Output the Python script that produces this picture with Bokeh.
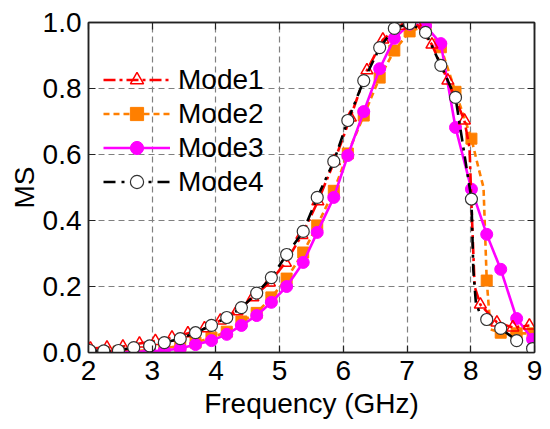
from bokeh.plotting import figure
from bokeh.models import (LinearAxis, SingleIntervalTicker, Legend, LegendItem,
                          Range1d, NumeralTickFormatter)
from bokeh.embed import file_html
from bokeh.resources import INLINE

# ---- data ----
x_common = [2.02, 2.24, 2.47, 2.71, 2.96, 3.19, 3.44, 3.68, 3.93, 4.17, 4.40, 4.64,
            4.87, 5.11, 5.37, 5.59, 5.85, 6.07, 6.32, 6.57, 6.80, 7.04, 7.29, 7.53,
            7.76, 8.01, 8.25, 8.47, 8.72, 8.97]

mode1_x = [2.03, 2.29, 2.54, 2.80, 3.05, 3.31, 3.56, 3.82, 4.07, 4.33, 4.58, 4.84,
           5.09, 5.35, 5.60, 5.86, 6.11, 6.37, 6.62, 6.88, 7.13, 7.39, 7.64, 7.90,
           8.15, 8.41, 8.66, 8.92]
mode1_y = [0.012, 0.015, 0.018, 0.027, 0.035, 0.045, 0.058, 0.073, 0.097, 0.125, 0.167, 0.212,
           0.272, 0.356, 0.458, 0.580, 0.712, 0.855, 0.948, 0.990, 1.000, 0.933, 0.824, 0.703,
           0.145, 0.091, 0.076, 0.082]
mode1_extra_x = [7.98, 8.02, 8.06]
mode1_extra_y = [0.62, 0.40, 0.20]

mode2_y = [0.0, 0.0, 0.002, 0.004, 0.008, 0.013, 0.020, 0.030, 0.045, 0.063, 0.094, 0.120,
           0.167, 0.224, 0.303, 0.385, 0.490, 0.603, 0.718, 0.833, 0.915, 0.973, 0.990, 0.925,
           0.790, 0.648, 0.218, 0.060, 0.058, 0.058]
mode2_extra_x = [8.12, 8.20, 8.31]
mode2_extra_y = [0.56, 0.50, 0.07]

mode3_y = [0.0, 0.0, 0.0, 0.002, 0.004, 0.006, 0.012, 0.024, 0.036, 0.055, 0.082, 0.112,
           0.152, 0.200, 0.273, 0.364, 0.470, 0.597, 0.730, 0.860, 0.952, 0.995, 0.990, 0.936,
           0.682, 0.495, 0.358, 0.252, 0.103, 0.040]

mode4_y = [0.006, 0.005, 0.006, 0.015, 0.020, 0.030, 0.042, 0.060, 0.082, 0.106, 0.136, 0.180,
           0.227, 0.297, 0.367, 0.470, 0.579, 0.703, 0.824, 0.924, 0.982, 0.997, 0.970, 0.870,
           0.773, 0.465, 0.100, 0.073, 0.036, 0.012]
mode4_extra_x = [8.04, 8.08, 8.15]
mode4_extra_y = [0.25, 0.15, 0.115]

labels = ["Mode1", "Mode2", "Mode3", "Mode4"]
x_ticks_interval = 1
y_ticks_interval = 0.2


def merged(xs, ys, ex, ey):
    pts = sorted(zip(list(xs) + list(ex), list(ys) + list(ey)))
    return [a for a, _ in pts], [b for _, b in pts]


FONT = "Liberation Sans"
FS = "28px"

p = figure(frame_width=446, frame_height=330, x_range=Range1d(2, 9), y_range=Range1d(0, 1),
           output_backend="svg", toolbar_location=None,
           min_border_left=88, min_border_right=8, min_border_top=22, min_border_bottom=70)
p.background_fill_color = "white"
p.border_fill_color = "white"
p.outline_line_color = "#222222"
p.outline_line_width = 1.5

xt = SingleIntervalTicker(interval=x_ticks_interval)
yt = SingleIntervalTicker(interval=y_ticks_interval)
p.xaxis.ticker = xt
p.yaxis.ticker = yt
p.yaxis.formatter = NumeralTickFormatter(format="0.0")
p.xaxis.axis_label = "Frequency (GHz)"
p.yaxis.axis_label = "MS"

for ax in (p.xaxis[0], p.yaxis[0]):
    ax.axis_line_color = "#222222"
    ax.axis_line_width = 1.5
    ax.major_tick_in = 7
    ax.major_tick_out = 0
    ax.major_tick_line_color = "#222222"
    ax.major_tick_line_width = 1.2
    ax.minor_tick_line_color = None
    ax.major_label_text_font = FONT
    ax.major_label_text_font_size = FS
    ax.major_label_text_color = "black"
    ax.axis_label_text_font = FONT
    ax.axis_label_text_font_size = FS
    ax.axis_label_text_font_style = "normal"
    ax.axis_label_text_color = "black"
p.xaxis.major_label_standoff = 4
p.xaxis.axis_label_standoff = 5
p.yaxis.major_label_standoff = 3
p.yaxis.axis_label_standoff = 0

for loc, tk in (("right", yt), ("above", xt)):
    ax = LinearAxis(ticker=tk, major_label_text_color=None, major_label_text_font_size="1px",
                    major_label_standoff=0,
                    axis_line_color="#222222", axis_line_width=1.5,
                    major_tick_in=7, major_tick_out=0, major_tick_line_color="#222222",
                    major_tick_line_width=1.2, minor_tick_line_color=None)
    p.add_layout(ax, loc)

for g in (p.xgrid[0], p.ygrid[0]):
    g.grid_line_color = "#808080"
    g.grid_line_dash = "6 4"
    g.grid_line_width = 1.2
p.xgrid.ticker = xt
p.ygrid.ticker = yt

LW = 2.6
# Mode2
l2x, l2y = merged(x_common, mode2_y, mode2_extra_x, mode2_extra_y)
r2l = p.line(l2x, l2y, color="#FF7F00", line_width=LW, line_dash="6 4")
r2m = p.scatter(x_common, mode2_y, marker="square", size=11, fill_color="#FF7F00",
                line_color="#FF7F00")
# Mode3
r3l = p.line(x_common, mode3_y, color="#FF00FF", line_width=LW)
r3m = p.scatter(x_common, mode3_y, marker="circle", size=12, fill_color="#FF00FF",
                line_color="#FF00FF")
# Mode1
l1x, l1y = merged(mode1_x, mode1_y, mode1_extra_x, mode1_extra_y)
r1l = p.line(l1x, l1y, color="#FF0000", line_width=LW, line_dash="12 4 3 4")
r1m = p.scatter(mode1_x, mode1_y, marker="triangle", size=12, fill_color="white",
                fill_alpha=0.0, line_color="#FF0000", line_width=1.5)
# Mode4
l4x, l4y = merged(x_common, mode4_y, mode4_extra_x, mode4_extra_y)
r4l = p.line(l4x, l4y, color="black", line_width=LW, line_dash="12 6 3 6")
r4m = p.scatter(x_common, mode4_y, marker="circle", size=12, fill_color="white",
                line_color="#333333", line_width=1.2)

legend = Legend(items=[
    LegendItem(label=labels[0], renderers=[r1l, r1m]),
    LegendItem(label=labels[1], renderers=[r2l, r2m]),
    LegendItem(label=labels[2], renderers=[r3l, r3m]),
    LegendItem(label=labels[3], renderers=[r4l, r4m]),
], location=(11, 150))
legend.background_fill_alpha = 0
legend.border_line_alpha = 0
legend.label_text_font = FONT
legend.label_text_font_size = FS
legend.label_text_color = "black"
legend.glyph_width = 67
legend.glyph_height = 33
legend.label_height = 33
legend.label_standoff = 8
legend.spacing = 1
legend.padding = 4
legend.margin = 0
p.add_layout(legend, "center")

open("out.html", "w").write(file_html(p, INLINE))
